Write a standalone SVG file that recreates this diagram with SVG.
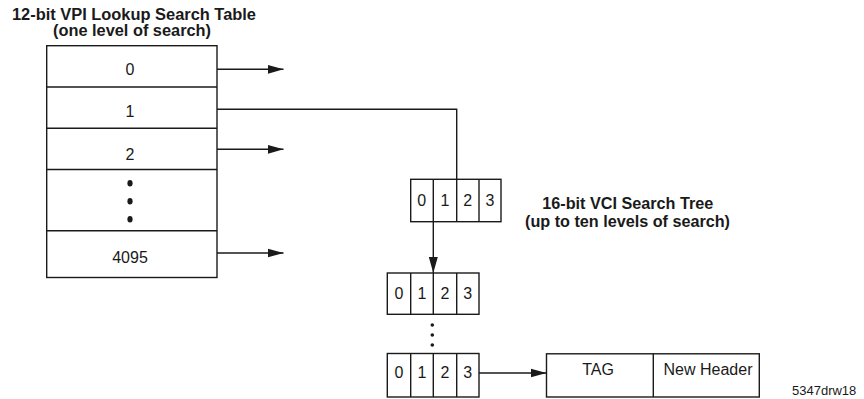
<svg xmlns="http://www.w3.org/2000/svg" width="864" height="399" viewBox="0 0 864 399">
<style>
.box{fill:#fff;stroke:#1a1a1a;stroke-width:1.4}
.ln{fill:none;stroke:#1a1a1a;stroke-width:1.4}
.t{font-family:"Liberation Sans",Arial,sans-serif;font-size:16px;fill:#1a1a1a;text-anchor:middle}
.b{font-weight:bold}
.s{font-size:13px;text-anchor:start}
.dot{fill:#1a1a1a}
</style>
<defs>
<marker id="ah" markerUnits="userSpaceOnUse" markerWidth="16" markerHeight="10" refX="16" refY="5" orient="auto">
<path d="M0,0.5 L16,5 L0,9.5 Z" fill="#1a1a1a"/>
</marker>
</defs>
<g id="vpi-title">
<text class="t b" x="134" y="19.5" textLength="244" lengthAdjust="spacingAndGlyphs">12-bit VPI Lookup Search Table</text>
<text class="t b" x="132" y="36" textLength="158" lengthAdjust="spacingAndGlyphs">(one level of search)</text>
</g>
<g id="vpi-table">
<rect class="box" x="46.7" y="45.7" width="170.3" height="231.8"/>
<line class="ln" x1="46.7" y1="87" x2="217" y2="87"/>
<line class="ln" x1="46.7" y1="128.3" x2="217" y2="128.3"/>
<line class="ln" x1="46.7" y1="169.5" x2="217" y2="169.5"/>
<line class="ln" x1="46.7" y1="230.7" x2="217" y2="230.7"/>
<text class="t" x="130" y="74.5">0</text>
<text class="t" x="130" y="117.3">1</text>
<text class="t" x="130" y="160">2</text>
<ellipse class="dot" cx="130" cy="183.3" rx="2.6" ry="3.2"/>
<ellipse class="dot" cx="130" cy="201.3" rx="2.6" ry="3.2"/>
<ellipse class="dot" cx="130" cy="219.3" rx="2.6" ry="3.2"/>
<text class="t" x="130" y="263.3">4095</text>
</g>
<g id="vci-title">
<text class="t b" x="627.8" y="209.3" textLength="171" lengthAdjust="spacingAndGlyphs">16-bit VCI Search Tree</text>
<text class="t b" x="627.5" y="227" textLength="205" lengthAdjust="spacingAndGlyphs">(up to ten levels of search)</text>
</g>
<g id="vci-level1">
<rect class="box" x="410.7" y="179.3" width="90.3" height="42.4"/>
<line class="ln" x1="433.3" y1="179.3" x2="433.3" y2="221.7"/>
<line class="ln" x1="456.7" y1="179.3" x2="456.7" y2="221.7"/>
<line class="ln" x1="479" y1="179.3" x2="479" y2="221.7"/>
<text class="t" x="421.8" y="205.7">0</text>
<text class="t" x="445" y="205.7">1</text>
<text class="t" x="467.8" y="205.7">2</text>
<text class="t" x="490" y="205.7">3</text>
</g>
<g id="vci-level2">
<rect class="box" x="387.3" y="273" width="91.7" height="41.3"/>
<line class="ln" x1="410.7" y1="273" x2="410.7" y2="314.3"/>
<line class="ln" x1="433.3" y1="273" x2="433.3" y2="314.3"/>
<line class="ln" x1="456.7" y1="273" x2="456.7" y2="314.3"/>
<text class="t" x="399" y="298.5">0</text>
<text class="t" x="422" y="298.5">1</text>
<text class="t" x="445" y="298.5">2</text>
<text class="t" x="467.8" y="298.5">3</text>
</g>
<g id="vci-dots">
<circle class="dot" cx="432.3" cy="325" r="1.8"/>
<circle class="dot" cx="432.3" cy="335" r="1.8"/>
<circle class="dot" cx="432.3" cy="345" r="1.8"/>
</g>
<g id="vci-leaf">
<rect class="box" x="387.3" y="353.5" width="91.7" height="43.5"/>
<line class="ln" x1="410.7" y1="353.5" x2="410.7" y2="397"/>
<line class="ln" x1="433.3" y1="353.5" x2="433.3" y2="397"/>
<line class="ln" x1="456.7" y1="353.5" x2="456.7" y2="397"/>
<text class="t" x="399" y="377.5">0</text>
<text class="t" x="422" y="377.5">1</text>
<text class="t" x="445" y="377.5">2</text>
<text class="t" x="467.8" y="377.5">3</text>
</g>
<g id="result">
<rect class="box" x="546.5" y="353.8" width="212.8" height="43.2"/>
<line class="ln" x1="653.3" y1="353.8" x2="653.3" y2="397"/>
<text class="t" x="598" y="375">TAG</text>
<text class="t" x="708" y="375">New Header</text>
</g>
<g id="connectors">
<line class="ln" x1="217" y1="69.3" x2="283.5" y2="69.3" marker-end="url(#ah)"/>
<line class="ln" x1="217" y1="149.3" x2="283.5" y2="149.3" marker-end="url(#ah)"/>
<line class="ln" x1="217" y1="253" x2="283.5" y2="253" marker-end="url(#ah)"/>
<polyline class="ln" points="217,109.3 456.7,109.3 456.7,179.3"/>
<line class="ln" x1="433.3" y1="221.7" x2="433.3" y2="273" marker-end="url(#ah)"/>
<line class="ln" x1="479" y1="373" x2="546.5" y2="373" marker-end="url(#ah)"/>
</g>
<text class="t s" x="792" y="395">5347drw18</text>
</svg>
